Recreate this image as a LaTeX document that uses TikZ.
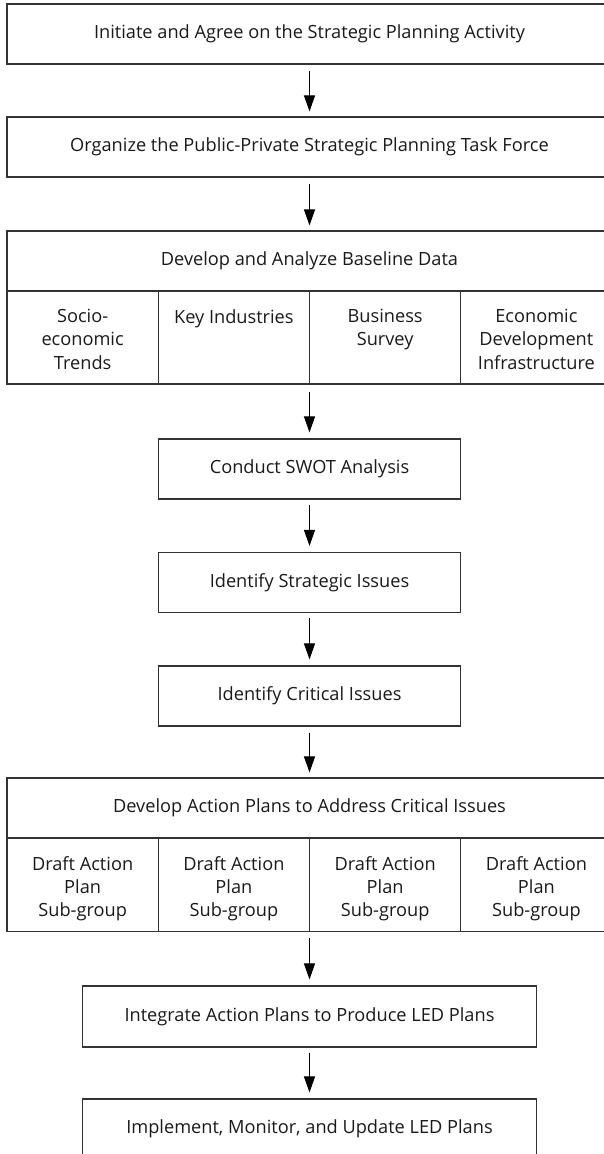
\documentclass[tikz,border=0pt]{standalone}
\usepackage{fontspec}
\setmainfont{Open Sans}
\usetikzlibrary{arrows.meta}
\definecolor{boxline}{HTML}{333333}
\definecolor{txt}{HTML}{1A1A1A}
\newcommand{\flowfont}{\fontsize{18.2}{23.3}\selectfont}
\begin{document}
\begin{tikzpicture}[x=1pt,y=-1pt,
  box/.style={draw=boxline, line width=1.1pt, inner sep=0pt, fill=white,
    font=\flowfont, text=txt, align=center},
  cell/.style={draw=boxline, line width=1.1pt, inner sep=0pt,
    minimum width=151.25pt, minimum height=93pt},
  celltext/.style={font=\flowfont, text=txt, inner sep=0pt, align=center, anchor=north},
  flow/.style={-{Triangle[length=16pt,width=11pt]}, line width=1pt, draw=black}
]
\useasboundingbox (0,0) rectangle (603,1154);

% stage boxes
\node[box, minimum width=605pt, minimum height=60pt] (init) at (309.5,34)
  {Initiate and Agree on the Strategic Planning Activity};
\node[box, minimum width=605pt, minimum height=60pt] (org) at (309.5,147)
  {Organize the Public-Private Strategic Planning Task Force};
\node[box, minimum width=605pt, minimum height=60pt] (base) at (309.5,261)
  {Develop and Analyze Baseline Data};

% baseline data components
\node[cell] (bc1) at (82.625,337.5) {};
\node[cell] (bc2) at (233.875,337.5) {};
\node[cell] (bc3) at (385.125,337.5) {};
\node[cell] (bc4) at (536.375,337.5) {};
\node[celltext] (bt1) at (82.625,309) {Socio-\\economic\\Trends};
\node[celltext] (bt2) at (233.875,309) {Key Industries};
\node[celltext] (bt3) at (385.125,309) {Business\\Survey};
\node[celltext] (bt4) at (536.375,309) {Economic\\Development\\Infrastructure};

\node[box, minimum width=302.5pt, minimum height=60pt] (swot) at (309.5,469)
  {Conduct SWOT Analysis};
\node[box, minimum width=302.5pt, minimum height=60pt] (strat) at (309.5,582.5)
  {Identify Strategic Issues};
\node[box, minimum width=302.5pt, minimum height=60pt] (crit) at (309.5,696)
  {Identify Critical Issues};

\node[box, minimum width=605pt, minimum height=60pt] (act) at (309.5,808)
  {Develop Action Plans to Address Critical Issues};

% action plan sub-groups
\node[cell] (ac1) at (82.625,885) {};
\node[cell] (ac2) at (233.875,885) {};
\node[cell] (ac3) at (385.125,885) {};
\node[cell] (ac4) at (536.375,885) {};
\node[celltext] (at1) at (82.625,856) {Draft Action\\Plan\\Sub-group};
\node[celltext] (at2) at (233.875,856) {Draft Action\\Plan\\Sub-group};
\node[celltext] (at3) at (385.125,856) {Draft Action\\Plan\\Sub-group};
\node[celltext] (at4) at (536.375,856) {Draft Action\\Plan\\Sub-group};

\node[box, minimum width=454pt, minimum height=61pt] (integ) at (309.5,1016.5)
  {Integrate Action Plans to Produce LED Plans};
\node[box, minimum width=454pt, minimum height=60pt] (impl) at (309.5,1129)
  {Implement, Monitor, and Update LED Plans};

% start points below the rows of cells, on the central axis
\coordinate (baseout) at (swot.north |- bc2.south);
\coordinate (actout) at (integ.north |- ac2.south);

% connectors
\draw[flow] ([yshift=-6pt]init.south) -- ([yshift=5pt]org.north);
\draw[flow] ([yshift=-6pt]org.south) -- ([yshift=5pt]base.north);
\draw[flow] ([yshift=-7pt]baseout) -- ([yshift=6pt]swot.north);
\draw[flow] ([yshift=-5pt]swot.south) -- ([yshift=6pt]strat.north);
\draw[flow] ([yshift=-5pt]strat.south) -- ([yshift=6pt]crit.north);
\draw[flow] ([yshift=-6pt]crit.south) -- ([yshift=5pt]act.north);
\draw[flow] ([yshift=-6pt]actout) -- ([yshift=6pt]integ.north);
\draw[flow] ([yshift=-5pt]integ.south) -- ([yshift=6pt]impl.north);
\end{tikzpicture}
\end{document}
